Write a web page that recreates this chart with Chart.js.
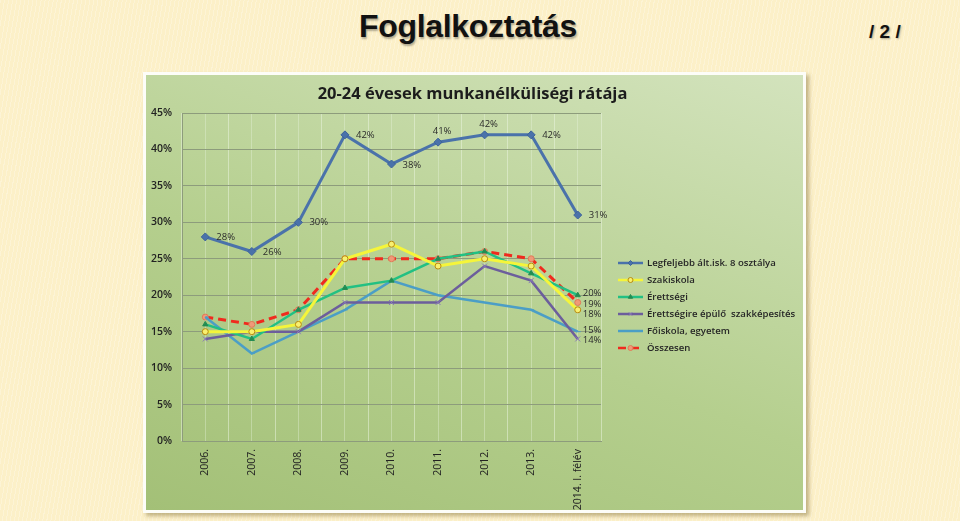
<!DOCTYPE html>
<html>
<head>
<meta charset="utf-8">
<script src="https://cdn.jsdelivr.net/npm/chart.js@4.4.1/dist/chart.umd.min.js"></script>
<style>
  html, body { margin: 0; padding: 0; }
  body {
    width: 960px; height: 521px; overflow: hidden; position: relative;
    background-color: #fcf0c8;
    background-image: repeating-linear-gradient(100deg, rgba(255,255,255,0.25) 0px, rgba(255,255,255,0.25) 1px, rgba(0,0,0,0) 1px, rgba(0,0,0,0) 4px);
    font-family: "Liberation Sans", Arial, sans-serif;
  }
  #title {
    position: absolute; left: 0; width: 936px; top: 8px; text-align: center;
    font-family: "Liberation Sans", Arial, sans-serif;
    font-weight: bold; font-size: 32px; color: #111; letter-spacing: -0.3px;
    text-shadow: 1px 2px 2px rgba(0,0,0,0.3);
  }
  #page {
    position: absolute; left: 869px; top: 21px;
    font-weight: bold; font-size: 19px; color: #111;
    text-shadow: 1px 1px 2px rgba(0,0,0,0.3);
  }
  #box {
    position: absolute; left: 143px; top: 72px; width: 657px; height: 435px;
    border: 3px solid #fdfdf8;
    box-shadow: 3px 3px 4px rgba(120,100,40,0.45);
    background: linear-gradient(20deg, #a3c077 0%, #b5cf8e 45%, #d3e3bd 100%);
  }
  #wrap { position: absolute; left: 0; top: 0; width: 657px; height: 435px; }
</style>
</head>
<body>
<div id="title">Foglalkoztatás</div>
<div id="page">/ 2 /</div>
<div id="box"><div id="wrap"><canvas id="chart"></canvas></div></div>
<script>
const chartTitle = "20-24 évesek munkanélküliségi rátája";
const years = ["2006.", "2007.", "2008.", "2009.", "2010.", "2011.", "2012.", "2013.", "2014. I. félév"];
const seriesNames = ["Legfeljebb ált.isk. 8 osztálya", "Szakiskola", "Érettségi", "Érettségire épülő  szakképesítés", "Főiskola, egyetem", "Összesen"];

const legfeljebb = [28, 26, 30, 42, 38, 41, 42, 42, 31];
const szakiskola = [15, 15, 16, 25, 27, 24, 25, 24, 18];
const erettsegi = [16, 14, 18, 21, 22, 25, 26, 23, 20];
const erettsegireEpulo = [14, 15, 15, 19, 19, 19, 24, 22, 14];
const foiskola = [17, 12, 15, 18, 22, 20, 19, 18, 15];
const osszesen = [17, 16, 18, 25, 25, 25, 26, 25, 19];

const yTicks = [0, 5, 10, 15, 20, 25, 30, 35, 40, 45];

// where the value labels sit next to the points (style only)
const blueLabelPos = ["right", "right", "right", "right", "right", "top", "top", "right", "right"];
const lastLabelShift = [0, 4, -2, 1, -1, 2];

const labelFont = '9.5px "Open Sans", "Noto Sans", sans-serif';

// value labels: all points of the first series, last point of the others
const valueLabels = {
  id: "valueLabels",
  afterDatasetsDraw(chart) {
    const ctx = chart.ctx;
    ctx.save();
    ctx.font = labelFont;
    ctx.fillStyle = "#2b2b2b";
    chart.data.datasets.forEach((ds, i) => {
      const meta = chart.getDatasetMeta(i);
      meta.data.forEach((pt, j) => {
        if (i > 0 && j !== meta.data.length - 1) return;
        const txt = ds.data[j] + "%";
        const pos = i === 0 ? blueLabelPos[j] : "right";
        if (pos === "top") {
          ctx.textAlign = "center";
          ctx.textBaseline = "bottom";
          ctx.fillText(txt, pt.x + 4, pt.y - 6);
        } else {
          ctx.textAlign = "left";
          ctx.textBaseline = "middle";
          const dy = i === 0 ? ((j === 1 || j === 4) ? 1 : 0) : lastLabelShift[i];
          ctx.fillText(txt, pt.x + (i === 0 ? 11 : 5), pt.y + dy);
        }
      });
    });
    ctx.restore();
  }
};

// chart title centred on the whole box, legend as line + marker like the original
const sideLegend = {
  id: "sideLegend",
  afterDraw(chart) {
    const ctx = chart.ctx;
    ctx.save();
    ctx.fillStyle = "#1c1c1c";
    ctx.font = 'bold 16.5px "Open Sans", "Noto Sans", sans-serif';
    ctx.textAlign = "center";
    ctx.textBaseline = "middle";
    ctx.fillText(chartTitle, chart.width / 2 - 2, 19);

    const x0 = chart.chartArea.right + 17;
    let y = 188;
    chart.data.datasets.forEach((ds) => {
      ctx.strokeStyle = ds.borderColor;
      ctx.lineWidth = 2.5;
      ctx.setLineDash(ds.borderDash || []);
      ctx.beginPath();
      ctx.moveTo(x0, y);
      ctx.lineTo(x0 + 25, y);
      ctx.stroke();
      ctx.setLineDash([]);
      ctx.lineWidth = 1;
      ctx.fillStyle = ds.pointBackgroundColor;
      ctx.strokeStyle = ds.pointBorderColor;
      Chart.helpers.drawPoint(ctx, { pointStyle: ds.pointStyle, radius: 2.5, borderWidth: 1 }, x0 + 12.5, y);
      ctx.fillStyle = "#262626";
      ctx.font = '600 9.6px "Open Sans", "Noto Sans", sans-serif';
      ctx.textAlign = "left";
      ctx.textBaseline = "middle";
      ctx.fillText(ds.label, x0 + 29, y);
      y += 17;
    });
    ctx.restore();
  }
};

function line(label, data, color, extra) {
  return Object.assign({
    label: label,
    data: data,
    borderColor: color,
    borderWidth: 3,
    tension: 0,
    fill: false,
    pointRadius: 3,
    pointBorderWidth: 1
  }, extra);
}

const ctx = document.getElementById("chart").getContext("2d");
new Chart(ctx, {
  type: "line",
  data: {
    labels: years,
    datasets: [
      line(seriesNames[0], legfeljebb, "#4a72aa", { pointStyle: "rectRot", pointRadius: 4, pointBackgroundColor: "#4a72aa", pointBorderColor: "#3d639a" }),
      line(seriesNames[1], szakiskola, "#f5f53a", { pointStyle: "circle", pointBackgroundColor: "#f8f070", pointBorderColor: "#b88a10" }),
      line(seriesNames[2], erettsegi, "#22c083", { borderWidth: 2.5, pointStyle: "triangle", pointBackgroundColor: "#238c52", pointBorderColor: "#238c52" }),
      line(seriesNames[3], erettsegireEpulo, "#6c5e9c", { borderWidth: 2.5, pointStyle: "crossRot", pointRadius: 3.5, pointBackgroundColor: "#8a7ab8", pointBorderColor: "#8a7ab8" }),
      line(seriesNames[4], foiskola, "#4b9ec6", { borderWidth: 2.5, pointStyle: "dash", pointBackgroundColor: "#4b9ec6", pointBorderColor: "#4b9ec6" }),
      line(seriesNames[5], osszesen, "#f02a1e", { borderDash: [8, 5], pointStyle: "circle", pointBackgroundColor: "#ef9a78", pointBorderColor: "#e07a58" })
    ]
  },
  options: {
    responsive: true,
    maintainAspectRatio: false,
    animation: false,
    layout: { padding: { left: 0, right: 202, top: 38, bottom: 0 } },
    plugins: {
      legend: { display: false },
      tooltip: { enabled: false },
      title: { display: false }
    },
    scales: {
      x: {
        type: "category",
        offset: true,
        grid: { offset: true, color: "rgba(235,245,225,0.5)", drawTicks: false },
        border: { color: "#8d9c7c" },
        ticks: {
          color: "#222",
          font: { family: '"Open Sans", "Noto Sans", sans-serif', size: 10.5 },
          minRotation: 90,
          maxRotation: 90,
          padding: 8,
          autoSkip: false
        },
        afterFit(scale) { scale.height = 69; }
      },
      x2: {
        type: "category",
        labels: years,
        offset: true,
        display: true,
        grid: { offset: false, color: "rgba(235,245,225,0.35)", drawTicks: false },
        border: { display: false },
        ticks: { display: false },
        afterFit(scale) { scale.height = 0; }
      },
      y: {
        min: 0,
        max: 45,
        afterBuildTicks(scale) { scale.ticks = yTicks.map(v => ({ value: v })); },
        grid: { color: "#8d9c7c", drawTicks: false },
        border: { color: "#8d9c7c" },
        ticks: {
          color: "#222",
          font: { family: '"Open Sans", "Noto Sans", sans-serif', size: 10.5, weight: "600" },
          padding: 10,
          callback: v => v + "%"
        },
        afterFit(scale) { scale.width = 36; }
      }
    }
  },
  plugins: [valueLabels, sideLegend]
});
</script>
</body>
</html>
